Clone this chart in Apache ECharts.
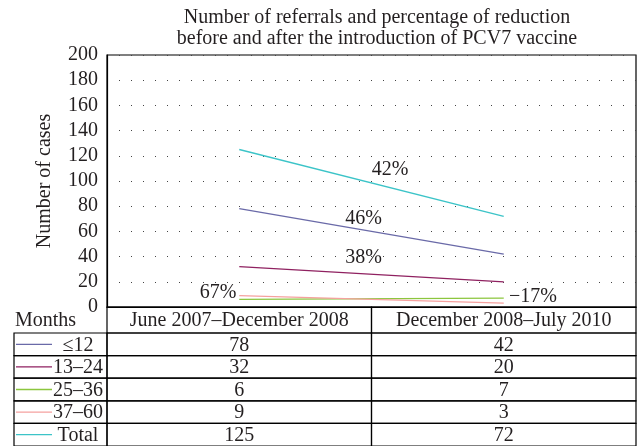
<!doctype html>
<html>
<head>
<meta charset="utf-8">
<title>PCV7 referrals</title>
<script src="https://cdn.jsdelivr.net/npm/echarts@6/dist/echarts.min.js"></script>
<style>
  html, body { margin: 0; padding: 0; background: #fff; }
  #chart { width: 638px; height: 446px; }
</style>
</head>
<body>
<div id="chart"></div>
<script>
var periods = ['June 2007\u2013December 2008', 'December 2008\u2013July 2010'];
var groups = ['\u226412', '13\u201324', '25\u201336', '37\u201360', 'Total'];
var colors = ['#6a6aa8', '#8f2160', '#8cc63e', '#f5a19f', '#3cc4c8'];
var le12 = [78, 42];
var m13to24 = [32, 20];
var m25to36 = [6, 7];
var m37to60 = [9, 3];
var total = [125, 72];
var values = [le12, m13to24, m25to36, m37to60, total];

// reduction labels, placed in (period index, cases) units
var pctText = ['42%', '46%', '38%', '67%', '\u221217%'];
var pctX = [0.57, 0.47, 0.47, -0.08, 1.11];
var pctY = [109, 70, 39, 11, 8];

var yTicks = [0, 20, 40, 60, 80, 100, 120, 140, 160, 180, 200];

var FONT = '"Liberation Serif", "DejaVu Serif", serif';
var FS = 20;
var INK = '#231f20';

var lineSeries = values.map(function (v, i) {
  return {
    name: groups[i],
    type: 'line',
    xAxisIndex: 0,
    yAxisIndex: 0,
    data: v,
    symbol: 'none',
    silent: true,
    lineStyle: { color: colors[i], width: 1.3 },
    z: 3
  };
});

var pctData = pctText.map(function (t, i) { return [pctX[i], pctY[i], t]; });

var cells = [];
values.forEach(function (v, r) {
  v.forEach(function (val, c) { cells.push([c, r, val]); });
});

function renderCell(params, api) {
  var c = api.value(0), r = api.value(1);
  var p = api.coord([c, r]);
  var s = api.size([1, 1]);
  var x0 = p[0] - s[0] / 2, y0 = p[1] - s[1] / 2;
  var kids = [{
    type: 'rect',
    shape: { x: x0, y: y0, width: s[0], height: s[1] },
    style: { fill: null, stroke: '#000', lineWidth: 1.2 }
  }, {
    type: 'text',
    style: { x: p[0], y: p[1] + 1, text: String(api.value(2)), align: 'center', verticalAlign: 'middle',
      font: FS + 'px ' + FONT, fill: INK }
  }];
  if (r === 0) {
    kids.push({
      type: 'rect',
      shape: { x: x0, y: y0 - 26, width: s[0], height: 26 },
      style: { fill: null, stroke: '#000', lineWidth: 1.2 }
    });
  }
  return { type: 'group', children: kids };
}

function renderRowHead(params, api) {
  var r = api.value(1);
  var p = api.coord([0, r]);
  var s = api.size([1, 1]);
  var right = p[0] - s[0] / 2, left = right - 93;
  var y0 = p[1] - s[1] / 2;
  var kids = [{
    type: 'rect',
    shape: { x: left, y: y0, width: 93, height: s[1] },
    style: { fill: null, stroke: '#000', lineWidth: 1.2 }
  }, {
    type: 'line',
    shape: { x1: left + 2, y1: p[1], x2: left + 38, y2: p[1] },
    style: { stroke: colors[r], lineWidth: 1.3 }
  }, {
    type: 'text',
    style: { x: left + 64, y: p[1] + 1, text: groups[r], align: 'center', verticalAlign: 'middle',
      font: FS + 'px ' + FONT, fill: INK }
  }];
  if (r === 0) {
    kids.push({
      type: 'text',
      style: { x: left + 1, y: y0 - 12, text: 'Months', align: 'left', verticalAlign: 'middle',
        font: FS + 'px ' + FONT, fill: INK }
    });
  }
  return { type: 'group', children: kids };
}

var option = {
  animation: false,
  backgroundColor: '#fff',
  title: {
    text: 'Number of referrals and percentage of reduction\nbefore and after the introduction of PCV7 vaccine',
    left: 372,
    textAlign: 'center',
    top: 2,
    textStyle: { fontFamily: FONT, fontSize: FS, fontWeight: 'normal', color: INK, lineHeight: 21 }
  },
  grid: [
    { left: 107, right: 2, top: 55, bottom: 139, show: true, borderColor: '#000', borderWidth: 1.2,
      backgroundColor: 'transparent' },
    { left: 107, right: 2, top: 333, bottom: -1 }
  ],
  xAxis: [
    { type: 'category', gridIndex: 0, data: periods, boundaryGap: true,
      axisLine: { show: true, lineStyle: { color: '#000', width: 1.2 } },
      axisTick: { show: false },
      axisLabel: { fontFamily: FONT, fontSize: FS, color: INK, margin: 4, interval: 0 } },
    { type: 'value', gridIndex: 0, min: -0.5, max: 1.5, show: false },
    { type: 'category', gridIndex: 1, data: periods, show: false }
  ],
  yAxis: [
    { type: 'value', gridIndex: 0, min: 0, max: 200, interval: 20,
      name: 'Number of cases', nameLocation: 'middle', nameGap: 52, nameRotate: 90,
      nameTextStyle: { fontFamily: FONT, fontSize: FS, color: INK },
      axisLine: { show: true, onZero: false, lineStyle: { color: '#000', width: 1.2 } },
      axisTick: { show: false },
      axisLabel: { fontFamily: FONT, fontSize: FS, color: INK, margin: 9,
        formatter: function (v) { return yTicks.indexOf(v) >= 0 ? String(v) : ''; } },
      splitLine: { show: true, lineStyle: { color: '#444', width: 1, type: [1, 11], dashOffset: 0 } } },
    { type: 'category', gridIndex: 1, data: groups, inverse: true, show: false }
  ],
  series: lineSeries.concat([
    {
      type: 'scatter',
      xAxisIndex: 1,
      yAxisIndex: 0,
      data: pctData,
      symbolSize: 0,
      silent: true,
      itemStyle: { opacity: 1 },
      label: { show: true, position: 'inside', formatter: function (p) { return p.value[2]; },
        fontFamily: FONT, fontSize: FS, color: INK },
      z: 4
    },
    {
      type: 'custom',
      xAxisIndex: 2,
      yAxisIndex: 1,
      data: cells,
      renderItem: renderCell,
      silent: true
    },
    {
      type: 'custom',
      xAxisIndex: 2,
      yAxisIndex: 1,
      data: groups.map(function (g, i) { return [0, i]; }),
      renderItem: renderRowHead,
      silent: true
    }
  ])
};

var chart = echarts.init(document.getElementById('chart'), null, { renderer: 'canvas' });
chart.setOption(option);
</script>
</body>
</html>
